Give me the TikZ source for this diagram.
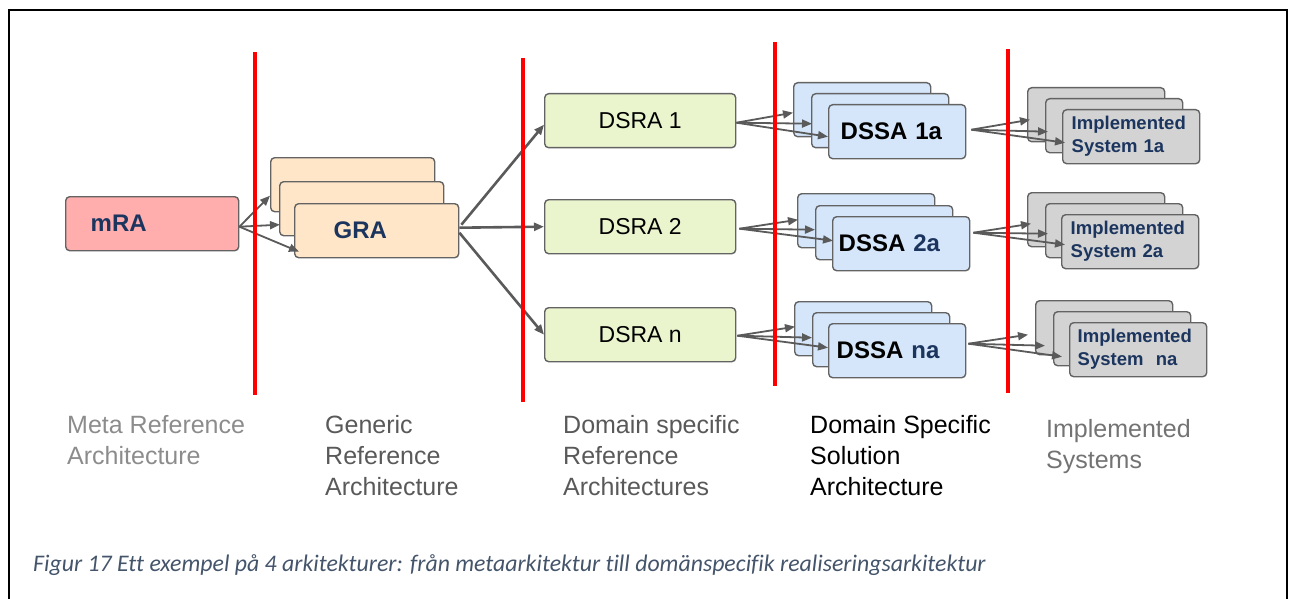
\documentclass[tikz,border=0pt]{standalone}
\usepackage{fontspec}
\setmainfont{Liberation Sans}
\newfontfamily\captionfont[Ligatures=NoCommon]{Carlito}
\usetikzlibrary{arrows.meta}

\definecolor{boxline}{HTML}{636363}
\definecolor{arrgray}{HTML}{5A5A5A}
\definecolor{navy}{HTML}{1C355E}
\definecolor{mrafill}{HTML}{FFADAD}
\definecolor{grafill}{HTML}{FFE6C8}
\definecolor{dsrafill}{HTML}{EAF5CE}
\definecolor{dssafill}{HTML}{D5E6FA}
\definecolor{implfill}{HTML}{D3D3D3}
\definecolor{captext}{HTML}{44546A}
\definecolor{divider}{HTML}{FF0000}

\tikzset{
  box/.style={draw=boxline, line width=1.4pt, rounded corners=4pt,
    anchor=north west, inner sep=0pt, minimum height=54pt},
  grabox/.style={box, fill=grafill, minimum width=164pt},
  dsrabox/.style={box, fill=dsrafill, minimum width=191pt,
    font=\fontsize{23}{27}\selectfont},
  dssabox/.style={box, fill=dssafill, minimum width=137pt},
  implbox/.style={box, fill=implfill, minimum width=137pt},
  dssatext/.style={font=\bfseries\fontsize{24}{28}\selectfont,
    align=left, text width=137pt-2*#1, inner xsep=#1},
  impltext/.style={font=\bfseries\fontsize{18.5}{23}\selectfont, text=navy,
    align=left, text width=137pt-2*#1, inner xsep=#1},
  arr/.style={draw=arrgray, line width=1.8pt,
    -{Triangle[length=10pt,width=8pt]}},
  arrthick/.style={arr, line width=2.6pt},
  redline/.style={draw=divider, line width=3.8pt},
  caption/.style={anchor=north west, inner sep=0pt, align=left,
    font=\fontsize{25}{31}\selectfont},
}

\begin{document}
\begin{tikzpicture}[x=1pt, y=-1pt]
\useasboundingbox (0,0) rectangle (1290,599);

% outer frame (open at the bottom)
\draw[line width=2.4pt, black] (9,600) -- (9,10) -- (1287,10) -- (1287,600);

% meta reference architecture
\node[box, fill=mrafill, minimum width=173pt, text width=123pt, inner xsep=25pt,
  align=left, font=\bfseries\fontsize{24}{28}\selectfont, text=navy]
  (mra) at (65,196) {mRA};

% generic reference architecture stack
\node[grabox] (graC) at (270,157) {};
\node[grabox] (graB) at (279,181) {};
\node[grabox, text width=86pt, inner xsep=39pt, align=left,
  font=\bfseries\fontsize{24}{28}\selectfont, text=navy]
  (graA) at (294,203) {GRA};

% domain specific reference architectures
\node[dsrabox] (dsra1) at (544,93)  {DSRA 1};
\node[dsrabox] (dsra2) at (544,199) {DSRA 2};
\node[dsrabox] (dsran) at (544,307) {DSRA n};

% domain specific solution architectures
\node[dssabox] (dssa1c) at (793,82)  {};
\node[dssabox] (dssa1b) at (811,93)  {};
\node[dssabox, dssatext=12pt] (dssa1a) at (828,104) {DSSA 1a};

\node[dssabox] (dssa2c) at (797,193) {};
\node[dssabox] (dssa2b) at (815,205) {};
\node[dssabox, dssatext=6pt] (dssa2a) at (832,216) {DSSA {\color{navy}2a}};

\node[dssabox] (dssanc) at (794,301) {};
\node[dssabox] (dssanb) at (812,312) {};
\node[dssabox, dssatext=8pt] (dssana) at (828,323) {DSSA {\color{navy}na}};

% implemented systems
\node[implbox] (impl1c) at (1027,87)  {};
\node[implbox] (impl1b) at (1045,98)  {};
\node[implbox, impltext=9pt] (impl1a) at (1062,109) {Implemented\\System 1a};

\node[implbox] (impl2c) at (1027,192) {};
\node[implbox] (impl2b) at (1045,203) {};
\node[implbox, impltext=9pt] (impl2a) at (1061,214) {Implemented\\System 2a};

\node[implbox] (implnc) at (1035,300) {};
\node[implbox] (implnb) at (1053,311) {};
\node[implbox, impltext=8pt] (implna) at (1069,322) {Implemented\\System\ \ na};

% mRA -> GRA
\draw[arr] ([yshift=-3pt]mra.east) -- ([yshift=-11pt]graC.west);
\draw[arr] ([yshift=-3pt]mra.east) -- ([xshift=1pt,yshift=-16pt]graB.west);
\draw[arr] ([yshift=-3pt]mra.east) -- ([xshift=5pt,yshift=-21pt]graA.west);

% GRA -> DSRA
\draw[arrthick] ([xshift=2pt,yshift=6pt]graA.east) -- ([yshift=-4pt]dsra1.west);
\draw[arrthick] ([yshift=3pt]graA.east) -- (dsra2.west);
\draw[arrthick] ([yshift=-2pt]graA.east) -- (dsran.west);

% DSRA -> DSSA
\draw[arr] ([yshift=-2pt]dsra1.east) -- ([yshift=-3pt]dssa1c.west);
\draw[arr] ([yshift=-2pt]dsra1.east) -- ([xshift=1pt,yshift=-3pt]dssa1b.west);
\draw[arr] ([yshift=-2pt]dsra1.east) -- ([yshift=-5pt]dssa1a.west);

\draw[arr] ([xshift=3pt,yshift=-2pt]dsra2.east) -- ([xshift=1pt,yshift=1pt]dssa2c.west);
\draw[arr] ([xshift=3pt,yshift=-2pt]dsra2.east) -- ([yshift=3pt]dssa2b.west);
\draw[arr] ([xshift=3pt,yshift=-2pt]dsra2.east) -- ([xshift=1pt,yshift=3pt]dssa2a.west);

\draw[arr] ([xshift=1pt,yshift=-1pt]dsran.east) -- ([xshift=1pt,yshift=2pt]dssanc.west);
\draw[arr] ([xshift=1pt,yshift=-1pt]dsran.east) -- ([yshift=2pt]dssanb.west);
\draw[arr] ([xshift=1pt,yshift=-1pt]dsran.east) -- ([yshift=3pt]dssana.west);

% DSSA -> implemented systems
\draw[arr] ([xshift=5pt,yshift=2pt]dssa1a.east) -- ([xshift=3pt,yshift=-5pt]impl1c.west);
\draw[arr] ([xshift=5pt,yshift=2pt]dssa1a.east) -- ([xshift=3pt,yshift=-6pt]impl1b.west);
\draw[arr] ([xshift=5pt,yshift=2pt]dssa1a.east) -- ([xshift=3pt,yshift=-6pt]impl1a.west);

\draw[arr] ([xshift=3pt,yshift=11pt]dssa2a.east) -- ([xshift=4pt,yshift=-4pt]impl2c.west);
\draw[arr] ([xshift=3pt,yshift=11pt]dssa2a.east) -- ([xshift=3pt,yshift=-3pt]impl2b.west);
\draw[arr] ([xshift=3pt,yshift=11pt]dssa2a.east) -- ([xshift=4pt,yshift=-3pt]impl2a.west);

\draw[arr] ([xshift=2pt,yshift=7pt]dssana.east) -- ([xshift=-7pt,yshift=-7pt]implnc.west);
\draw[arr] ([xshift=2pt,yshift=7pt]dssana.east) -- ([xshift=-8pt,yshift=-7pt]implnb.west);
\draw[arr] ([xshift=2pt,yshift=7pt]dssana.east) -- ([xshift=-7pt,yshift=-7pt]implna.west);

% column dividers
\draw[redline] (255,52) -- (255,395);
\draw[redline] (523,58) -- (523,402);
\draw[redline] (775,42) -- (775,386);
\draw[redline] (1008,49) -- (1008,393);

% column captions
\node[caption, text=black!45] (lbl1) at (67,415) {Meta Reference\\Architecture};
\node[caption, text=black!65] (lbl2) at (325,415) {Generic\\Reference\\Architecture};
\node[caption, text=black!65] (lbl3) at (563,415) {Domain specific\\Reference\\Architectures};
\node[caption, text=black] (lbl4) at (810,415) {Domain Specific\\Solution\\Architecture};
\node[caption, text=black!55] (lbl5) at (1046,419) {Implemented\\Systems};

% figure caption
\node[anchor=west, inner sep=0pt, text=captext,
  font=\captionfont\itshape\fontsize{23.8}{27}\selectfont]
  (figcap) at (33,565) {Figur 17 Ett exempel på 4 arkitekturer: från metaarkitektur till domänspecifik realiseringsarkitektur};
\end{tikzpicture}
\end{document}
